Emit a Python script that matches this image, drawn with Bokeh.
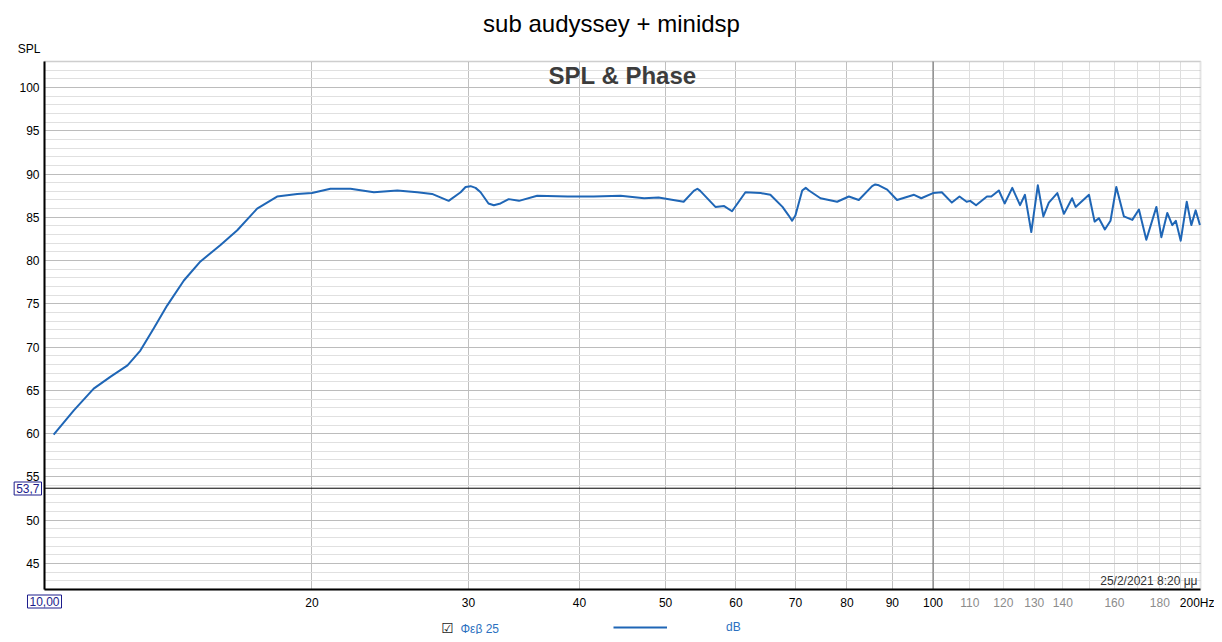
from bokeh.plotting import figure
from bokeh.models import (Range1d, FixedTicker, Label, LabelSet, ColumnDataSource,
                          Legend, LegendItem, PrintfTickFormatter, BoxAnnotation, Grid)
from bokeh.core.properties import value
from bokeh.embed import file_html
from bokeh.resources import INLINE
import math

# ---- data ----
freq = [10.24, 10.79, 11.36, 11.87, 12.40, 12.82, 13.28, 13.74, 14.35, 14.98, 15.78, 16.48,
        17.35, 18.27, 19.25, 20.0, 20.98, 22.1, 23.48, 24.95, 26.28, 27.3, 28.5, 29.4, 29.78,
        30.17, 30.56, 30.96, 31.6, 32.04, 32.6, 33.3, 34.2, 35.85, 38.8, 41.5, 44.5, 47.3, 49.1,
        52.4, 53.8, 54.3, 54.7, 56.9, 58.2, 59.4, 61.5, 63.97, 65.6, 67.7, 68.8, 69.4, 70.0,
        71.25, 71.9, 72.5, 74.7, 78.0, 80.4, 82.5, 85.4, 86.1, 86.9, 88.8, 91.1,
        95.2, 97.0, 100.0, 102.3, 105.0, 107.1, 109.1, 110.1, 111.8, 115.0, 116.3, 118.6, 120.4,
        122.8, 125.3, 126.9, 129.0, 131.2, 133.1, 135.0, 138.0, 140.4, 143.4, 144.7, 149.8,
        152.0, 153.7, 156.1, 158.4, 160.8, 164.0, 167.6, 170.5, 173.8, 178.4, 180.7, 183.5,
        185.9, 187.6, 190.0, 193.0, 195.3, 197.5, 199.7]
spl = [59.9, 62.7, 65.2, 66.6, 67.9, 69.6, 72.2, 74.8, 77.7, 79.9, 81.8, 83.5,
       86.0, 87.4, 87.7, 87.8, 88.3, 88.3, 87.9, 88.1, 87.9, 87.7, 86.9, 87.9, 88.5,
       88.6, 88.4, 87.9, 86.6, 86.4, 86.6, 87.1, 86.9, 87.5, 87.4, 87.4, 87.5, 87.2, 87.3,
       86.8, 88.05, 88.3, 88.05, 86.2, 86.3, 85.7, 87.9, 87.8, 87.6, 86.2, 85.2, 84.6, 85.2,
       88.1, 88.4, 88.1, 87.2, 86.8, 87.4, 87.0, 88.6, 88.8, 88.7, 88.2, 87.0,
       87.6, 87.2, 87.8, 87.9, 86.7, 87.4, 86.8, 86.9, 86.4, 87.4, 87.4, 88.1, 86.6,
       88.4, 86.4, 87.6, 83.3, 88.7, 85.1, 86.7, 87.8, 85.4, 87.2, 86.2, 87.6,
       84.5, 84.9, 83.6, 84.6, 88.5, 85.1, 84.7, 85.9, 82.4, 86.2, 82.7, 85.5,
       84.1, 84.6, 82.3, 86.8, 84.1, 85.8, 84.1]

x_min, x_max = 10, 200          # plotted frequency span
y_min, y_max = 42, 103          # plotted SPL span
y_ticks = [45, 50, 55, 60, 65, 70, 75, 80, 85, 90, 95, 100]
y_minor = list(range(42, 104))
x_black_ticks = [20, 30, 40, 50, 60, 70, 80, 90, 100, 200]
x_gray_ticks = [110, 120, 130, 140, 160, 180]
x_grid_major = [20, 30, 40, 50, 60, 70, 80, 90, 100]
x_grid_minor = [110, 120, 130, 140, 150, 160, 170, 180, 190]

title_text = "sub audyssey + minidsp"
inner_title = "SPL & Phase"
y_name = "SPL"
date_text = "25/2/2021 8:20 μμ"
series_name = "Φεβ 25"
unit_name = "dB"
cursor_x_label = "10,00"
cursor_y = 53.7
cursor_y_label = "53,7"
marker_f = 100

FONT = "Liberation Sans"
CURVE = "#1f66b6"
BLUE_TXT = "#2a70c0"
NAVY = "#1c1c8c"

# canvas layout: plot area spans px 44..1200 horizontally, 61..589 vertically
W, H = 1214, 634
L, R, T, B = 44, 1200, 61, 589
lx0, lx1 = math.log10(x_min), math.log10(x_max)
kx = (lx1 - lx0) / (R - L)
ky = (y_max - y_min) / (B - T)
xr = Range1d(10 ** (lx0 - L * kx), 10 ** (lx1 + (W - R) * kx))
yr = Range1d(y_min - (H - B) * ky, y_max + T * ky)

p = figure(width=W, height=H, x_axis_type="log", x_range=xr, y_range=yr,
           output_backend="svg", toolbar_location=None,
           min_border_left=0, min_border_right=0, min_border_top=0, min_border_bottom=0)
p.background_fill_color = "white"
p.border_fill_color = "white"
p.outline_line_color = None

# grids limited to the plot area
p.ygrid.ticker = FixedTicker(ticks=y_ticks, minor_ticks=y_minor)
p.ygrid.grid_line_color = "#bcbcbc"
p.ygrid.minor_grid_line_color = "#e0e0e0"
p.xgrid.ticker = FixedTicker(ticks=x_grid_major, minor_ticks=x_grid_minor)
p.xgrid.grid_line_color = "#c0c0c0"
p.xgrid.minor_grid_line_color = "#dedede"
p.ygrid.bounds = (y_min, y_max)
p.xgrid.bounds = (x_min, x_max)
if "cross_bounds" in Grid.properties():
    p.ygrid.cross_bounds = (x_min, x_max)
    p.xgrid.cross_bounds = (y_min, y_max)

# plot-area border (light shadow on top/right)
p.add_layout(BoxAnnotation(left=x_min, right=x_max, bottom=y_min, top=y_max,
                           fill_alpha=0, line_color="#a6a6a6", line_width=2, level="underlay"))

# axes fixed at the plot-area edges
p.yaxis.ticker = FixedTicker(ticks=y_ticks)
p.xaxis.ticker = FixedTicker(ticks=x_black_ticks)
p.xaxis.formatter = PrintfTickFormatter(format="%d")
p.xaxis.major_label_overrides = {200: "200Hz"}
p.xaxis.fixed_location = y_min
p.yaxis.fixed_location = x_min
p.xaxis.bounds = (x_min, x_max)
p.yaxis.bounds = (y_min, y_max)
for ax in (p.xaxis[0], p.yaxis[0]):
    ax.axis_line_color = "black"
    ax.axis_line_width = 2
    ax.major_tick_line_color = None
    ax.minor_tick_line_color = None
    ax.major_tick_out = 0
    ax.major_tick_in = 0
    ax.minor_tick_out = 0
    ax.minor_tick_in = 0
    ax.major_label_text_font = FONT
    ax.major_label_text_font_size = "12px"
    ax.major_label_text_color = "black"
p.xaxis.major_label_standoff = 6
p.yaxis.major_label_standoff = 5

# cursor lines
p.line([marker_f, marker_f], [y_min, y_max], line_color="#6a6a6a", line_width=1)
p.line([x_min, x_max], [cursor_y, cursor_y], line_color="black", line_width=1)

# curve
src = ColumnDataSource(dict(f=freq, spl=spl))
r = p.line("f", "spl", source=src, line_color=CURVE, line_width=2, line_join="round")

# gray tick labels
gsrc = ColumnDataSource(dict(f=x_gray_ticks, t=[str(v) for v in x_gray_ticks]))
p.add_layout(LabelSet(x="f", y=602, y_units="canvas", text="t", source=gsrc, text_align="center",
                      text_baseline="middle", text_font=value(FONT),
                      text_font_size=value("12px"), text_color="#8c8c8c"))

def clabel(x, y, text, **kw):
    opts = dict(x_units="canvas", y_units="canvas", text_font=FONT, text_font_size="12px",
                text_baseline="middle")
    opts.update(kw)
    p.add_layout(Label(x=x, y=y, text=text, **opts))

clabel(611, 23, title_text, text_align="center", text_font_size="24px", text_color="black")
clabel(622, 75, inner_title, text_align="center", text_font_size="24px",
       text_font_style="bold", text_color="#3c3c3c")
clabel(40, 48, y_name, text_align="right", text_color="black")
clabel(1197, 580, date_text, text_align="right", text_color="#333333")

# boxed cursor value labels
clabel(41, 488, cursor_y_label, text_align="right", text_color=NAVY, border_line_color=NAVY,
       border_line_width=1, background_fill_color="white", padding=2)
clabel(44, 601, cursor_x_label, text_align="center", text_color=NAVY, border_line_color=NAVY,
       border_line_width=1, background_fill_color="white", padding=2)

# bottom legend-like row
clabel(447, 627, "☑", text_align="center", text_font="DejaVu Sans", text_font_size="14px",
       text_color="#222222")
clabel(460, 628, series_name, text_align="left", text_color=BLUE_TXT)
legend = Legend(items=[LegendItem(label=unit_name, renderers=[r])],
                location=(613, 0), orientation="horizontal",
                glyph_width=54, glyph_height=12, label_height=12, label_standoff=59,
                padding=0, margin=0, spacing=0,
                border_line_color=None, background_fill_alpha=0,
                label_text_font=FONT, label_text_font_size="12px", label_text_color=BLUE_TXT)
p.add_layout(legend, "center")

open("out.html", "w").write(file_html(p, INLINE))
